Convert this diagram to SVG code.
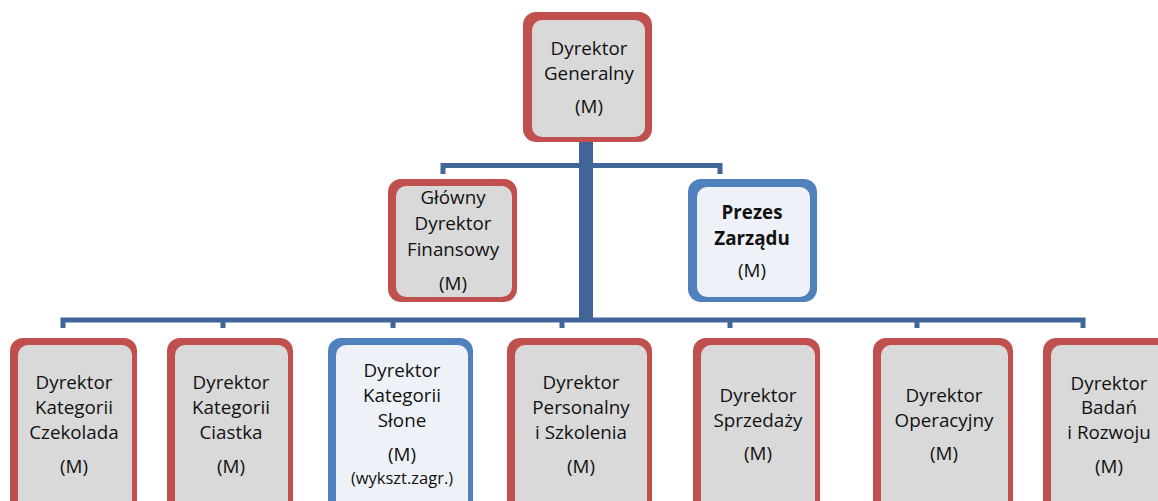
<svg xmlns="http://www.w3.org/2000/svg" width="1158" height="501" viewBox="0 0 1158 501">
<style>
.ro{fill:#c0504d}
.ri{fill:#d9d9d9}
.bo{fill:#4f81bd}
.bi{fill:#eef2f8}
.t{font-family:"Open Sans","Liberation Sans",sans-serif;font-size:18.8px;fill:#111111;text-anchor:middle}
.b{font-weight:bold}
.s{font-size:16.5px}
.c{fill:none;stroke:#3f6599;stroke-width:5}
</style>
<rect width="1158" height="501" fill="#ffffff"/>
<g id="connectors">
<path class="c" d="M443,174 V165.5 H720 V174"/>
<path class="c" d="M63,328 V320 H1083 V328 M223,320 V328 M393,320 V328 M562,320 V328 M730,320 V328 M917,320 V328"/>
<rect x="579" y="138" width="14" height="184" fill="#3f6599"/>
</g>
<g id="n-dyrektor-generalny">
<rect class="ro" x="523" y="12" width="129" height="130" rx="13"/>
<rect class="ri" x="532" y="20" width="113" height="117" rx="10"/>
<text class="t" x="589" y="55">Dyrektor</text>
<text class="t" x="589" y="80">Generalny</text>
<text class="t" x="589" y="113">(M)</text>
</g>
<g id="n-glowny-dyrektor-finansowy">
<rect class="ro" x="388" y="179" width="129" height="123" rx="13"/>
<rect class="ri" x="396" y="186" width="116" height="111" rx="10"/>
<text class="t" x="453" y="204">Główny</text>
<text class="t" x="453" y="230">Dyrektor</text>
<text class="t" x="453" y="256">Finansowy</text>
<text class="t" x="453" y="290">(M)</text>
</g>
<g id="n-prezes-zarzadu">
<rect class="bo" x="688" y="179" width="129" height="123" rx="13"/>
<rect class="bi" x="697" y="187" width="113" height="110" rx="10"/>
<text class="t b" x="752" y="219">Prezes</text>
<text class="t b" x="752" y="245">Zarządu</text>
<text class="t" x="752" y="277">(M)</text>
</g>
<g id="n-czekolada">
<rect class="ro" x="10" y="338" width="127" height="180" rx="13"/>
<rect class="ri" x="18" y="345" width="114" height="170" rx="10"/>
<text class="t" x="74" y="389">Dyrektor</text>
<text class="t" x="74" y="414">Kategorii</text>
<text class="t" x="74" y="439">Czekolada</text>
<text class="t" x="74" y="473">(M)</text>
</g>
<g id="n-ciastka">
<rect class="ro" x="167" y="338" width="126" height="180" rx="13"/>
<rect class="ri" x="175" y="345" width="113" height="170" rx="10"/>
<text class="t" x="231" y="389">Dyrektor</text>
<text class="t" x="231" y="414">Kategorii</text>
<text class="t" x="231" y="439">Ciastka</text>
<text class="t" x="231" y="473">(M)</text>
</g>
<g id="n-slone">
<rect class="bo" x="328" y="338" width="145" height="180" rx="13"/>
<rect class="bi" x="336" y="345" width="132" height="170" rx="10"/>
<text class="t" x="402" y="377">Dyrektor</text>
<text class="t" x="402" y="402">Kategorii</text>
<text class="t" x="402" y="427">Słone</text>
<text class="t" x="402" y="461">(M)</text>
<text class="t s" x="402" y="484">(wykszt.zagr.)</text>
</g>
<g id="n-personalny">
<rect class="ro" x="507" y="338" width="145" height="180" rx="13"/>
<rect class="ri" x="515" y="345" width="132" height="170" rx="10"/>
<text class="t" x="581" y="389">Dyrektor</text>
<text class="t" x="581" y="414">Personalny</text>
<text class="t" x="581" y="439">i Szkolenia</text>
<text class="t" x="581" y="473">(M)</text>
</g>
<g id="n-sprzedazy">
<rect class="ro" x="693" y="338" width="127" height="180" rx="13"/>
<rect class="ri" x="701" y="345" width="114" height="170" rx="10"/>
<text class="t" x="758" y="402">Dyrektor</text>
<text class="t" x="758" y="427">Sprzedaży</text>
<text class="t" x="758" y="460">(M)</text>
</g>
<g id="n-operacyjny">
<rect class="ro" x="873" y="338" width="140" height="180" rx="13"/>
<rect class="ri" x="881" y="345" width="127" height="170" rx="10"/>
<text class="t" x="944" y="402">Dyrektor</text>
<text class="t" x="944" y="427">Operacyjny</text>
<text class="t" x="944" y="460">(M)</text>
</g>
<g id="n-badan">
<rect class="ro" x="1043" y="338" width="130" height="180" rx="13"/>
<rect class="ri" x="1051" y="345" width="117" height="170" rx="10"/>
<text class="t" x="1109" y="390">Dyrektor</text>
<text class="t" x="1109" y="414">Badań</text>
<text class="t" x="1109" y="439">i Rozwoju</text>
<text class="t" x="1109" y="473">(M)</text>
</g>
</svg>
